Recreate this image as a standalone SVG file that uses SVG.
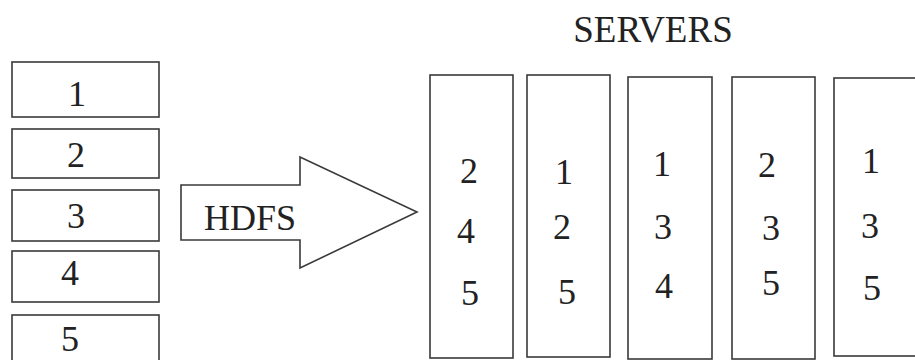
<svg xmlns="http://www.w3.org/2000/svg" width="915" height="360" viewBox="0 0 915 360">
<style>
.b{fill:#fff;stroke:#3a3a3a;stroke-width:1.6}
.t{font-family:"Liberation Serif","Times New Roman",serif;font-size:36px;fill:#222;text-anchor:middle}
</style>
<rect width="915" height="360" fill="#fff"/>
<g id="block1"><rect class="b" x="12" y="62" width="147" height="55"/><text class="t" x="77" y="106">1</text></g>
<g id="block2"><rect class="b" x="12" y="129" width="147" height="49"/><text class="t" x="76" y="167">2</text></g>
<g id="block3"><rect class="b" x="12" y="190" width="147" height="51"/><text class="t" x="76" y="228">3</text></g>
<g id="block4"><rect class="b" x="12" y="251" width="147" height="51"/><text class="t" x="70" y="285">4</text></g>
<g id="block5"><rect class="b" x="12" y="315" width="147" height="60"/><text class="t" x="70" y="351">5</text></g>
<g id="connectors">
<g id="hdfs"><path class="b" d="M181,185 H300 V157 L417,212 L300,268 V240 H181 Z"/><text class="t" x="250" y="230">HDFS</text></g>
</g>
<text class="t" x="653" y="42" style="font-size:37px">SERVERS</text>
<g id="server1"><rect class="b" x="430" y="75" width="83" height="283"/><text class="t" x="469" y="183">2</text><text class="t" x="466" y="243">4</text><text class="t" x="470" y="305">5</text></g>
<g id="server2"><rect class="b" x="527" y="75" width="83" height="282"/><text class="t" x="564" y="184">1</text><text class="t" x="562" y="239">2</text><text class="t" x="567" y="304">5</text></g>
<g id="server3"><rect class="b" x="628" y="77" width="84" height="282"/><text class="t" x="662" y="176">1</text><text class="t" x="663" y="239">3</text><text class="t" x="664" y="298">4</text></g>
<g id="server4"><rect class="b" x="732" y="77" width="83" height="282"/><text class="t" x="767" y="177">2</text><text class="t" x="771" y="240">3</text><text class="t" x="771" y="295">5</text></g>
<g id="server5"><rect class="b" x="834" y="78" width="100" height="278"/><text class="t" x="871" y="173">1</text><text class="t" x="870" y="238">3</text><text class="t" x="872" y="300">5</text></g>
</svg>
